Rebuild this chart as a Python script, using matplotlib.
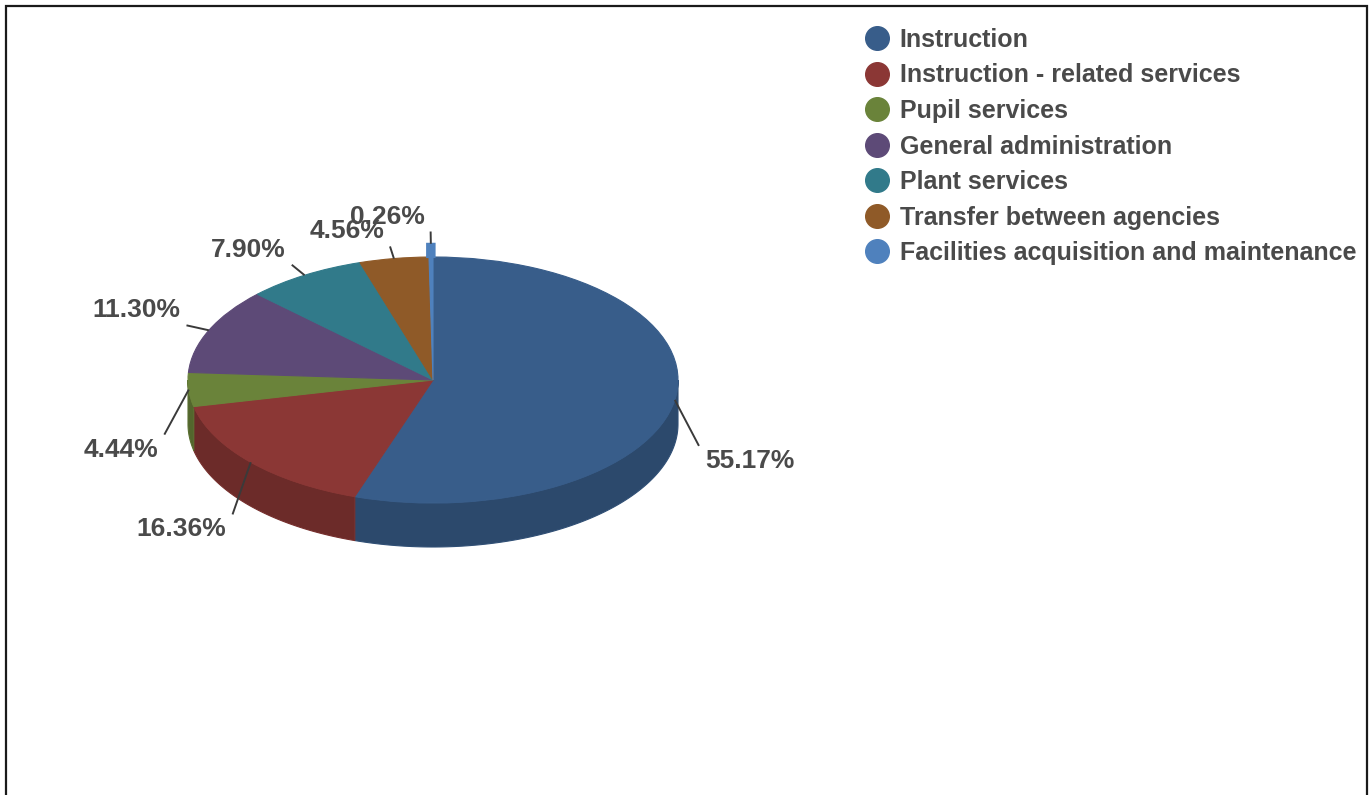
import matplotlib.pyplot as plt
import numpy as np
from matplotlib.lines import Line2D
from matplotlib.patches import Rectangle

categories = ["Instruction", "Instruction - related services", "Pupil services",
              "General administration", "Plant services", "Transfer between agencies",
              "Facilities acquisition and maintenance"]
shares = [55.17, 16.36, 4.44, 11.30, 7.90, 4.56, 0.26]
colors = ["#385d8a", "#8b3735", "#6a833a", "#5d4a77", "#317a8a", "#8f5a28", "#4f81bd"]

W, H = 1371, 795
CX, CY = 433, 380      # pie centre in pixels
RX, RY = 245, 123      # ellipse radii in pixels
DEPTH = 44             # thickness of the pie in pixels
TXT = "#4a4a4a"
LABEL_FONT = dict(family="Liberation Sans", weight="bold", size=19)


def darker(c, f=0.78):
    r, g, b = [int(c[i:i + 2], 16) / 255 for i in (1, 3, 5)]
    return (r * f, g * f, b * f)


fig = plt.figure(figsize=(W / 100, H / 100), dpi=100)
ax = fig.add_axes([0, 0, 1, 1])

# top face: a unit pie squashed into an ellipse by the non-equal aspect
wedges, _ = ax.pie(shares, colors=colors, startangle=90, counterclock=False,
                   radius=1, wedgeprops=dict(linewidth=0.8), frame=False)
for w in wedges:
    w.set_edgecolor(w.get_facecolor())
ax.set_aspect("auto")
ax.set_xlim(-CX / RX, (W - CX) / RX)
ax.set_ylim(-(H - CY) / RY, CY / RY)
ax.axis("off")

d = DEPTH / RY
start = 90.0
for v, c in zip(shares, colors):
    end = start - v * 3.6
    # visible side wall (front half only)
    a, b = max(end, -180.0), min(start, 0.0)
    if a < b:
        t = np.radians(np.linspace(a, b, 120))
        xs = np.concatenate([np.cos(t), np.cos(t[::-1])])
        ys = np.concatenate([np.sin(t), np.sin(t[::-1]) - d])
        ax.fill(xs, ys, color=darker(c), zorder=0.5, lw=0.8, ec=darker(c, 0.85))

    m = np.radians((start + end) / 2)
    px, py = np.cos(m), np.sin(m)

    # a sliver slice shows its wall sticking up above the rim
    if v < 1:
        t = np.radians(np.linspace(end - 0.4, start + 0.4, 20))
        stub = 0.3 * d
        ax.fill(np.concatenate([np.cos(t), np.cos(t[::-1])]),
                np.concatenate([np.sin(t), np.sin(t[::-1]) + stub]),
                color=c, zorder=2, lw=1.5, ec=c)
        py += stub

    # data label with leader line
    qx, qy = px + 0.1 * np.cos(m), py + 0.1 * np.sin(m)
    if np.sin(m) < 0:
        qy -= d
    ax.plot([px, qx], [py, qy], color="#3a3a3a", lw=1.4, zorder=3, solid_capstyle="butt")
    right = px > 0
    ax.annotate(f"{v:.2f}%", xy=(qx, qy),
                xytext=(6 if right else -6, -15 if np.sin(m) < 0 else 15),
                textcoords="offset pixels", ha="left" if right else "right",
                va="center", color=TXT, zorder=4, **LABEL_FONT)
    start = end

handles = [Line2D([0], [0], marker="o", ls="", markersize=17,
                  markerfacecolor=c, markeredgecolor=c) for c in colors]
fig.legend(handles, categories, loc="upper left",
           bbox_to_anchor=(864 / W, 1 - 28 / H), frameon=False,
           prop=dict(family="Liberation Sans", weight="bold", size=18),
           labelcolor=TXT, handlelength=1.0, handletextpad=0.42,
           labelspacing=0.46, borderpad=0, borderaxespad=0)

fig.add_artist(Rectangle((5.5 / W, -0.05), (1366.5 - 5.5) / W, 1.05 - 5.5 / H,
                         transform=fig.transFigure, fill=False, lw=1.6,
                         ec="#1a1a1a"))

fig.savefig("out.png", dpi=100)
